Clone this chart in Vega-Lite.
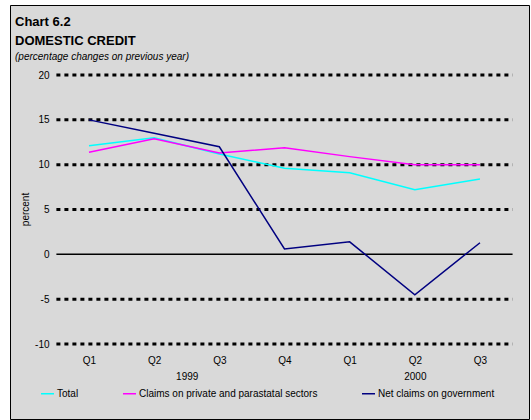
{
  "$schema": "https://vega.github.io/schema/vega-lite/v6.json",
  "width": 519,
  "height": 414,
  "autosize": {"type": "none"},
  "padding": {"left": 10, "top": 5, "right": 2, "bottom": 1},
  "background": "white",
  "config": {
    "view": {"fill": "#d9d9d9", "stroke": "#000000", "strokeWidth": 1},
    "font": "Liberation Sans"
  },
  "title": {
    "text": ["Chart 6.2", "DOMESTIC CREDIT"],
    "subtitle": "(percentage changes on previous year)",
    "anchor": "start",
    "frame": "group",
    "orient": "top",
    "offset": -57,
    "dx": 5,
    "fontSize": 13,
    "fontWeight": "bold",
    "lineHeight": 19,
    "color": "#000000",
    "subtitleFontSize": 10,
    "subtitleFontStyle": "italic",
    "subtitleColor": "#000000",
    "subtitlePadding": 4
  },
  "datasets": {
    "series": [
      {"q": 1, "quarter": "1999 Q1", "series": "Total", "value": 12.1},
      {"q": 2, "quarter": "1999 Q2", "series": "Total", "value": 13.0},
      {"q": 3, "quarter": "1999 Q3", "series": "Total", "value": 11.2},
      {"q": 4, "quarter": "1999 Q4", "series": "Total", "value": 9.6},
      {"q": 5, "quarter": "2000 Q1", "series": "Total", "value": 9.1},
      {"q": 6, "quarter": "2000 Q2", "series": "Total", "value": 7.2},
      {"q": 7, "quarter": "2000 Q3", "series": "Total", "value": 8.4},
      {"q": 1, "quarter": "1999 Q1", "series": "Claims on private and parastatal sectors", "value": 11.4},
      {"q": 2, "quarter": "1999 Q2", "series": "Claims on private and parastatal sectors", "value": 12.9},
      {"q": 3, "quarter": "1999 Q3", "series": "Claims on private and parastatal sectors", "value": 11.3},
      {"q": 4, "quarter": "1999 Q4", "series": "Claims on private and parastatal sectors", "value": 11.9},
      {"q": 5, "quarter": "2000 Q1", "series": "Claims on private and parastatal sectors", "value": 10.9},
      {"q": 6, "quarter": "2000 Q2", "series": "Claims on private and parastatal sectors", "value": 10.0},
      {"q": 7, "quarter": "2000 Q3", "series": "Claims on private and parastatal sectors", "value": 10.0},
      {"q": 1, "quarter": "1999 Q1", "series": "Net claims on government", "value": 15.0},
      {"q": 2, "quarter": "1999 Q2", "series": "Net claims on government", "value": 13.5},
      {"q": 3, "quarter": "1999 Q3", "series": "Net claims on government", "value": 12.0},
      {"q": 4, "quarter": "1999 Q4", "series": "Net claims on government", "value": 0.6},
      {"q": 5, "quarter": "2000 Q1", "series": "Net claims on government", "value": 1.4},
      {"q": 6, "quarter": "2000 Q2", "series": "Net claims on government", "value": -4.5},
      {"q": 7, "quarter": "2000 Q3", "series": "Net claims on government", "value": 1.3}
    ],
    "grid": [
      {"level": -10}, {"level": -5}, {"level": 5}, {"level": 10}, {"level": 15}, {"level": 20}
    ]
  },
  "layer": [
    {
      "data": {"name": "grid"},
      "mark": {"type": "rule", "color": "#000000", "strokeWidth": 3, "strokeDash": [4, 4]},
      "encoding": {
        "y": {"field": "level", "type": "quantitative", "scale": {"domain": [-18.36, 27.81], "nice": false, "zero": false}},
        "x": {"datum": 0.5, "type": "quantitative", "scale": {"domain": [-0.212, 7.752], "nice": false, "zero": false}},
        "x2": {"datum": 7.5}
      }
    },
    {
      "mark": {"type": "rule", "color": "#000000", "strokeWidth": 1.5},
      "data": {"values": [{"level": 0}]},
      "encoding": {
        "y": {"field": "level", "type": "quantitative"},
        "x": {"datum": 0.5, "type": "quantitative"},
        "x2": {"datum": 7.5}
      }
    },
    {
      "data": {"name": "series"},
      "mark": {"type": "line", "strokeWidth": 1.5},
      "encoding": {
        "x": {
          "field": "q",
          "type": "quantitative",
          "axis": {
            "values": [1, 2, 2.5, 3, 4, 5, 6, 7],
            "labelExpr": "datum.value == 2.5 ? [' ', '1999'] : datum.value == 6 ? ['Q2', '2000'] : (datum.value == 1 || datum.value == 5) ? 'Q1' : (datum.value == 2) ? 'Q2' : (datum.value == 3 || datum.value == 7) ? 'Q3' : 'Q4'",
            "offset": -75,
            "labelPadding": 11,
            "labelLineHeight": 16,
            "labelFontSize": 10,
            "labelColor": "#000000",
            "labelOverlap": false,
            "labelFlush": false,
            "labelBound": false,
            "domain": false,
            "ticks": false,
            "grid": false,
            "title": null
          }
        },
        "y": {
          "field": "value",
          "type": "quantitative",
          "axis": {
            "values": [-10, -5, 0, 5, 10, 15, 20],
            "labelExpr": "'' + datum.value",
            "offset": -47,
            "labelPadding": 8,
            "labelFontSize": 10,
            "labelColor": "#000000",
            "domain": false,
            "ticks": false,
            "grid": false,
            "title": "percent",
            "titleFontSize": 10,
            "titleFontWeight": "normal",
            "titleColor": "#000000",
            "titlePadding": 4,
            "titleY": 204
          }
        },
        "color": {
          "field": "series",
          "type": "nominal",
          "scale": {
            "domain": ["Total", "Claims on private and parastatal sectors", "Net claims on government"],
            "range": ["#00ffff", "#ff00ff", "#000080"]
          },
          "legend": {
            "orient": "none",
            "legendX": 30,
            "legendY": 381,
            "direction": "horizontal",
            "columns": 3,
            "columnPadding": 41,
            "title": null,
            "padding": 0,
            "symbolType": "stroke",
            "symbolSize": 169,
            "symbolStrokeWidth": 1.5,
            "labelOffset": 2,
            "labelLimit": 400,
            "labelFontSize": 10,
            "labelColor": "#000000"
          }
        }
      }
    }
  ]
}
